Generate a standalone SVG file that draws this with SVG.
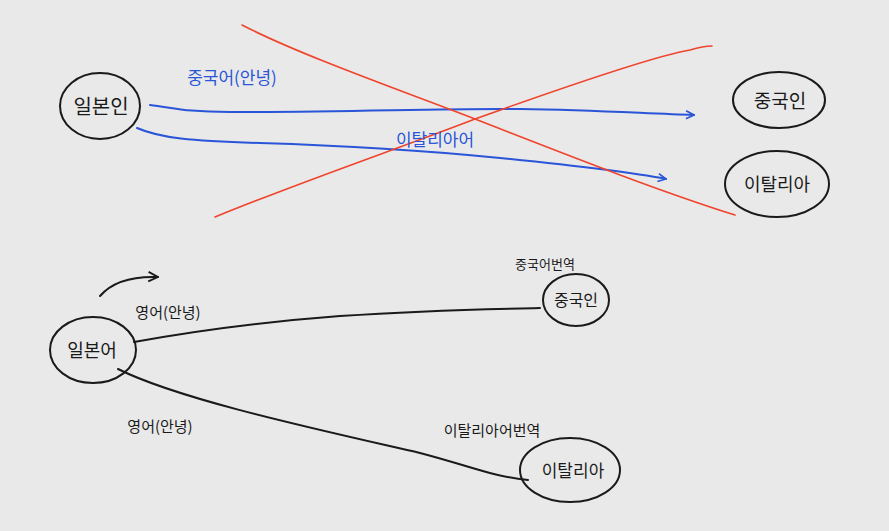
<svg xmlns="http://www.w3.org/2000/svg" width="889" height="531" viewBox="0 0 889 531">
<defs>
<style>
.bg{fill:#e9e9e9}
.node{fill:none;stroke:#1a1a1a;stroke-width:2}
.t{font-family:"Noto Sans CJK KR","Noto Sans",sans-serif;fill:#1a1a1a;text-anchor:middle}
.bt{font-family:"Noto Sans CJK KR","Noto Sans",sans-serif;fill:#2a55d8;text-anchor:middle}
.blue{fill:none;stroke:#2a55d8;stroke-width:2;stroke-linecap:round}
.red{fill:none;stroke:#f0442c;stroke-width:1.6;stroke-linecap:round}
.blk{fill:none;stroke:#1a1a1a;stroke-width:2;stroke-linecap:round}
</style>
<marker id="ab" viewBox="0 0 10 10" refX="9" refY="5" markerWidth="10" markerHeight="10" markerUnits="userSpaceOnUse" orient="auto">
<path d="M1,1 L9,5 L1,9" fill="none" stroke="#2a55d8" stroke-width="1.6"/>
</marker>
<marker id="ak" viewBox="0 0 10 10" refX="9" refY="5" markerWidth="12" markerHeight="12" markerUnits="userSpaceOnUse" orient="auto">
<path d="M1,1 L9,5 L1,9" fill="none" stroke="#1a1a1a" stroke-width="1.6"/>
</marker>
</defs>
<rect class="bg" width="889" height="531"/>
<g id="connectors">
<path class="blue" d="M150,105 C175,108 185,112 230,112 C350,112 450,108 520,109 C600,110 650,114 694,115" marker-end="url(#ab)"/>
<path class="blue" d="M137,128 C160,138 190,141 260,143 C360,146 440,152 500,158 C580,166 630,172 666,179" marker-end="url(#ab)"/>
<path class="red" d="M242,25 C300,55 400,90 475,119 C560,152 650,188 735,215"/>
<path class="red" d="M215,217 C300,182 400,148 475,119 C570,85 660,55 690,50 C700,47 706,46 712,46"/>
<path class="blk" d="M100,296 C112,282 130,276 158,277" marker-end="url(#ak)"/>
<path class="blk" d="M134,342 C200,330 260,322 340,316 C430,310 490,309 540,308"/>
<path class="blk" d="M118,369 C180,400 320,430 420,453 C470,466 490,476 528,480"/>
</g>
<g id="labels">
<text class="bt" x="232" y="84" font-size="17">중국어(안녕)</text>
<text class="bt" x="435" y="146" font-size="17">이탈리아어</text>
<text class="t" x="168" y="318" font-size="15">영어(안녕)</text>
<text class="t" x="545" y="269" font-size="13">중국어번역</text>
<text class="t" x="160" y="432" font-size="15">영어(안녕)</text>
<text class="t" x="492" y="436" font-size="15">이탈리아어번역</text>
</g>
<g id="n-top-japanese">
<ellipse class="node" cx="100" cy="106" rx="40" ry="33"/>
<text class="t" x="101" y="114" font-size="20">일본인</text>
</g>
<g id="n-top-chinese">
<ellipse class="node" cx="779" cy="100" rx="46" ry="28"/>
<text class="t" x="780" y="108" font-size="19">중국인</text>
</g>
<g id="n-top-italy">
<ellipse class="node" cx="777" cy="184" rx="52" ry="33"/>
<text class="t" x="777" y="191" font-size="18">이탈리아</text>
</g>
<g id="n-bot-japanese">
<ellipse class="node" cx="93" cy="350" rx="43" ry="33"/>
<text class="t" x="92" y="357" font-size="18">일본어</text>
</g>
<g id="n-bot-chinese">
<ellipse class="node" cx="576" cy="300" rx="33" ry="26"/>
<text class="t" x="576" y="306" font-size="16">중국인</text>
</g>
<g id="n-bot-italy">
<ellipse class="node" cx="570" cy="470" rx="50" ry="32"/>
<text class="t" x="573" y="477" font-size="17">이탈리아</text>
</g>
</svg>
